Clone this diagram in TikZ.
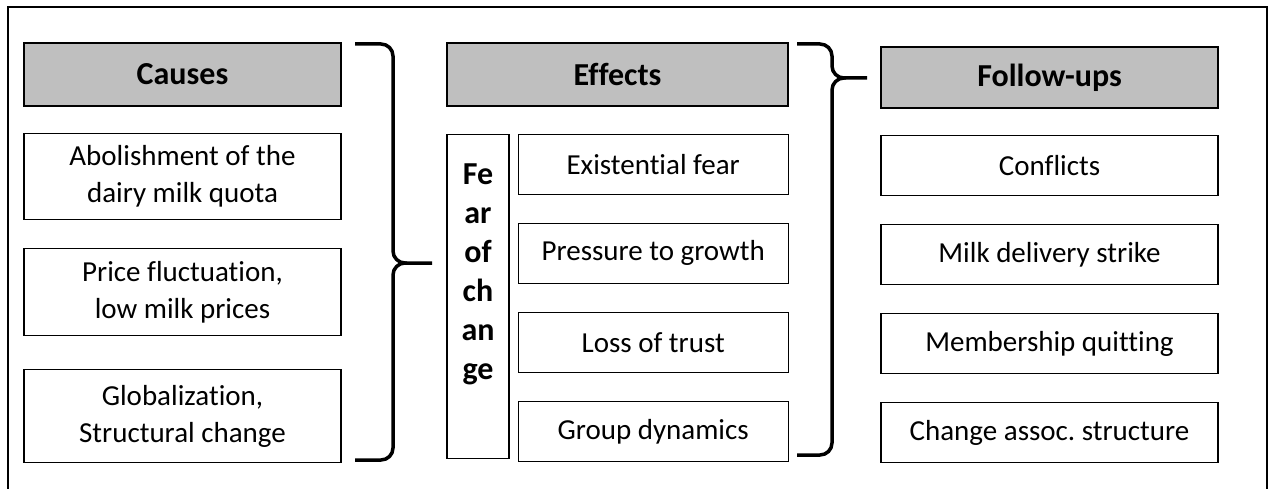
\documentclass[tikz,border=0pt]{standalone}
\usepackage{fontspec}
\setmainfont{Carlito}[Ligatures=NoCommon]
\usetikzlibrary{positioning}
\definecolor{hdrgray}{RGB}{191,191,191}

\begin{document}
\begin{tikzpicture}[x=1pt,y=-1pt]
	\tikzstyle{txt}=[font=\fontsize{29}{37}\selectfont, align=center, inner sep=0pt]
	\tikzstyle{hdr}=[txt, draw, line width=1.2pt, fill=hdrgray, font=\bfseries\fontsize{32}{37}\selectfont]
	\tikzstyle{box}=[txt, draw, line width=1.2pt]
	\tikzstyle{brc}=[line width=3.5pt, rounded corners=12pt]

	\useasboundingbox (0,0) rectangle (1269,489);
	\draw[line width=1.5pt] (8,495) -- (8,7) -- (1267,7) -- (1267,495);

	% causes
	\node[hdr, minimum width=317pt, minimum height=63pt] (causes) at (182.5,74.5) {Causes};
	\node[box, minimum width=317pt, minimum height=86pt] (c1) [below=26pt of causes] {Abolishment of the\\dairy milk quota};
	\node[box, minimum width=317pt, minimum height=87pt] (c2) [below=28pt of c1] {Price fluctuation,\\low milk prices};
	\node[box, minimum width=317pt, minimum height=93pt] (c3) [below=33pt of c2] {Globalization,\\Structural change};

	% effects
	\node[hdr, minimum width=341pt, minimum height=63pt] (effects) at (617.5,74.5) {Effects};
	\node[box, minimum width=62pt, minimum height=324pt] (fear) [below=27pt of effects.south west, anchor=north west] {};
	\node[txt, anchor=north, font=\bfseries\fontsize{32}{39}\selectfont] (feartxt) at ([yshift=-30pt]fear.north) {Fe\\ar\\of\\ch\\an\\ge};
	\node[box, minimum width=270pt, minimum height=60pt] (e1) [right=8pt of fear.north east, anchor=north west] {Existential fear};
	\node[box, minimum width=270pt, minimum height=60pt] (e2) [below=28pt of e1] {Pressure to growth};
	\node[box, minimum width=270pt, minimum height=60pt] (e3) [below=28pt of e2] {Loss of trust};
	\node[box, minimum width=270pt, minimum height=60pt] (e4) [below=28pt of e3] {Group dynamics};

	% follow-ups
	\node[hdr, minimum width=337pt, minimum height=61pt] (follow) at (1049.5,77.5) {Follow-ups};
	\node[box, minimum width=337pt, minimum height=60pt] (f1) [below=26pt of follow] {Conflicts};
	\node[box, minimum width=337pt, minimum height=60pt] (f2) [below=28pt of f1] {Milk delivery strike};
	\node[box, minimum width=337pt, minimum height=60pt] (f3) [below=28pt of f2] {Membership quitting};
	\node[box, minimum width=337pt, minimum height=60pt] (f4) [below=28pt of f3] {Change assoc.\ structure};

	% braces
	\foreach \xa/\xs/\xt/\ya/\ym/\yb in {355/393/432/44/263/460, 797/832/867/44/78/455}
	{
		\draw[brc] (\xa,\ya) -- (\xs,\ya) -- (\xs,\ym) -- (\xt,\ym);
		\draw[brc] (\xs+14,\ym) -- (\xs,\ym) -- (\xs,\yb) -- (\xa,\yb);
	}
\end{tikzpicture}
\end{document}
